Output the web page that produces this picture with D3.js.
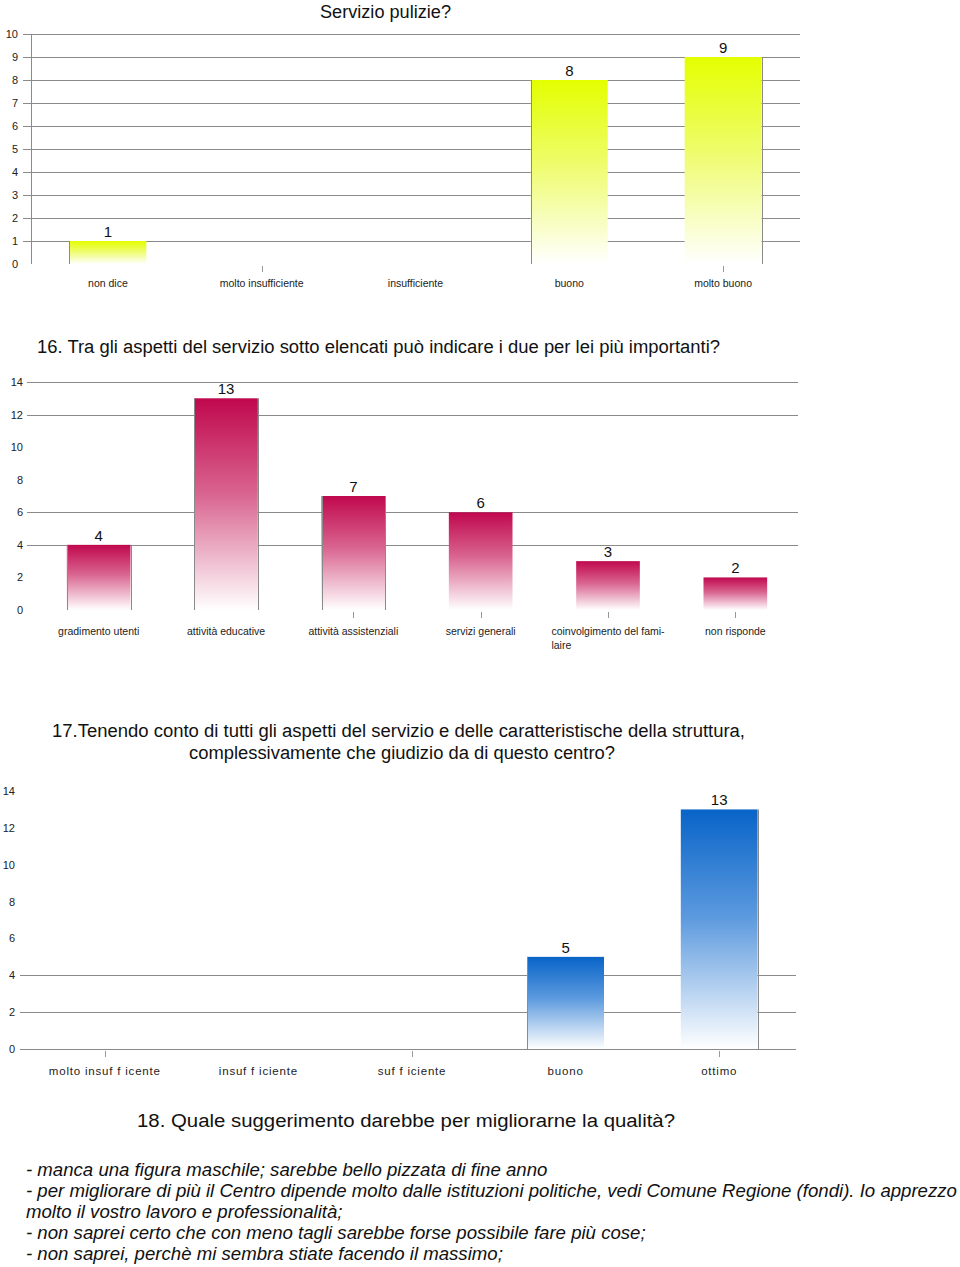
<!DOCTYPE html>
<html>
<head>
<meta charset="utf-8">
<script src="https://cdn.jsdelivr.net/npm/d3@7"></script>
<style>
  body { margin: 0; background: #fff; }
  svg { display: block; font-family: "Liberation Sans", Arial, sans-serif; }
</style>
</head>
<body>
<div class="chart"></div>
<script>
// --- data ---
const pulizieCats = ["non dice", "molto insufficiente", "insufficiente", "buono", "molto buono"];
const pulizieVals = [1, 0, 0, 8, 9];
const pulizieTicks = [0, 1, 2, 3, 4, 5, 6, 7, 8, 9, 10];

const importantiCats = ["gradimento utenti", "attività educative", "attività assistenziali",
  "servizi generali", "coinvolgimento del fami-\nlaire", "non risponde"];
const importantiVals = [4, 13, 7, 6, 3, 2];
const importantiTicks = [0, 2, 4, 6, 8, 10, 12, 14];

const giudizioCats = ["molto insuf f icente", "insuf f iciente", "suf f iciente", "buono", "ottimo"];
const giudizioVals = [0, 0, 0, 5, 13];
const giudizioTicks = [0, 2, 4, 6, 8, 10, 12, 14];

const suggerimenti = [
  "- manca una figura maschile; sarebbe bello pizzata di fine anno",
  "- per migliorare di più il Centro dipende molto dalle istituzioni politiche, vedi Comune Regione (fondi). Io apprezzo",
  "molto il vostro lavoro e professionalità;",
  "- non saprei certo che con meno tagli sarebbe forse possibile fare più cose;",
  "- non saprei, perchè mi sembra stiate facendo il massimo;"
];

const W = 960, H = 1267;

const svg = d3.select(".chart")
  .append("svg")
  .attr("width", W)
  .attr("height", H);

svg.append("rect").attr("width", W).attr("height", H).attr("fill", "#fff");
const defs = svg.append("defs");

function drawChart(cfg) {
  const g = svg.append("g");

  const x = d3.scaleBand()
    .domain(cfg.cats)
    .range(cfg.xRange)
    .paddingInner(0.5)
    .paddingOuter(0.25);

  const y = d3.scaleLinear()
    .domain([0, d3.max(cfg.ticks)])
    .range(cfg.yRange);

  // gradient for bars
  const gid = "grad-" + cfg.id;
  const grad = defs.append("linearGradient")
    .attr("id", gid)
    .attr("x1", 0).attr("y1", 0).attr("x2", 0).attr("y2", 1);
  grad.append("stop").attr("offset", "0%").attr("stop-color", cfg.color);
  grad.append("stop").attr("offset", "45%").attr("stop-color", cfg.mid);
  grad.append("stop").attr("offset", "100%").attr("stop-color", "#ffffff");

  // gridlines
  g.selectAll(".grid")
    .data(cfg.grid)
    .enter()
    .append("line")
    .attr("x1", cfg.gridX[0])
    .attr("x2", cfg.gridX[1])
    .attr("y1", (d) => Math.round(y(d)) + 0.5)
    .attr("y2", (d) => Math.round(y(d)) + 0.5)
    .attr("stroke", "#8a8a8a")
    .attr("stroke-width", 1);

  if (cfg.axisLine) {
    g.append("line")
      .attr("x1", cfg.axisLine + 0.5).attr("x2", cfg.axisLine + 0.5)
      .attr("y1", y(d3.max(cfg.ticks))).attr("y2", y(0))
      .attr("stroke", "#8a8a8a");
  }

  // y axis labels
  const yAxis = d3.axisLeft(y).tickValues(cfg.ticks).tickSize(0).tickPadding(0);
  const ya = g.append("g")
    .attr("transform", "translate(" + cfg.yLabelX + ",0)")
    .call(yAxis);
  ya.select(".domain").remove();
  ya.selectAll("text")
    .attr("font-family", "Liberation Sans, Arial, sans-serif")
    .attr("font-size", 11)
    .attr("fill", "#222");

  const data = cfg.cats.map((c, i) => ({ cat: c, val: cfg.vals[i], i: i }));
  const bars = data.filter((d) => d.val > 0);

  g.selectAll(".bar")
    .data(bars)
    .enter()
    .append("rect")
    .attr("x", (d) => x(d.cat))
    .attr("y", (d) => y(d.val))
    .attr("width", x.bandwidth())
    .attr("height", (d) => y(0) - y(d.val))
    .attr("fill", "url(#" + gid + ")");

  // thin grey edges seen on some bars
  cfg.edges.forEach((e) => {
    const d = data[e[0]];
    const ex = e[1] === "l" ? x(d.cat) : x(d.cat) + x.bandwidth();
    g.append("line")
      .attr("x1", Math.round(ex) + 0.5).attr("x2", Math.round(ex) + 0.5)
      .attr("y1", y(d.val)).attr("y2", y(0))
      .attr("stroke", "#8a8a8a");
  });

  // value labels
  g.selectAll(".val")
    .data(bars)
    .enter()
    .append("text")
    .attr("x", (d) => x(d.cat) + x.bandwidth() / 2)
    .attr("y", (d) => y(d.val) - 4)
    .attr("text-anchor", "middle")
    .attr("font-size", 15)
    .attr("fill", "#111")
    .text((d) => d.val);

  // category ticks
  cfg.tickIdx.forEach((i) => {
    const cx = Math.round(x(cfg.cats[i]) + x.bandwidth() / 2) + 0.5;
    g.append("line")
      .attr("x1", cx).attr("x2", cx)
      .attr("y1", y(0) + 2).attr("y2", y(0) + 8)
      .attr("stroke", "#999");
  });

  // category labels
  data.forEach((d) => {
    const cx = x(d.cat) + x.bandwidth() / 2;
    const lines = d.cat.split("\n");
    const t = g.append("text")
      .attr("x", cx)
      .attr("y", cfg.labelY)
      .attr("text-anchor", "middle")
      .attr("font-size", cfg.labelSize)
      .attr("letter-spacing", cfg.labelSpacing)
      .attr("fill", "#222")
      .text(lines[0]);
    if (lines.length > 1) {
      const w = t.node().getComputedTextLength();
      g.append("text")
        .attr("x", cx - w / 2)
        .attr("y", cfg.labelY + 14)
        .attr("font-size", cfg.labelSize)
        .attr("letter-spacing", cfg.labelSpacing)
        .attr("fill", "#222")
        .text(lines[1]);
    }
  });
}

// titles: [text, left x, width]
function title(lines, y0) {
  lines.forEach((l, i) => {
    svg.append("text")
      .attr("x", l[1])
      .attr("y", y0 + i * 22)
      .attr("font-size", 18)
      .attr("textLength", l[2])
      .attr("lengthAdjust", "spacingAndGlyphs")
      .attr("fill", "#111")
      .text(l[0]);
  });
}

// --- chart 1 ---
title([["Servizio pulizie?", 320, 131]], 18);
drawChart({
  id: "pulizie",
  cats: pulizieCats, vals: pulizieVals, ticks: pulizieTicks,
  grid: [1, 2, 3, 4, 5, 6, 7, 8, 9, 10],
  xRange: [31, 800], yRange: [264, 34],
  gridX: [23, 800], axisLine: 31, yLabelX: 18,
  color: "#e4ff00", mid: "#eefc6a",
  edges: [[0, "l"], [3, "l"], [4, "r"]],
  tickIdx: [1, 4],
  labelY: 287, labelSize: 10.5, labelSpacing: 0
});

// --- chart 2 ---
title([["16. Tra gli aspetti del servizio sotto elencati può indicare i due per lei più importanti?", 37, 683]], 353);
drawChart({
  id: "importanti",
  cats: importantiCats, vals: importantiVals, ticks: importantiTicks,
  grid: [4, 6, 12, 14],
  xRange: [35, 799], yRange: [610, 382],
  gridX: [27, 798], axisLine: null, yLabelX: 23,
  color: "#c0084e", mid: "#d9648f",
  edges: [[0, "l"], [0, "r"], [1, "l"], [1, "r"], [2, "l"], [2, "r"]],
  tickIdx: [2, 3, 4, 5],
  labelY: 635, labelSize: 10.5, labelSpacing: 0
});

// --- chart 3 ---
title([["17.Tenendo conto di tutti gli aspetti del servizio e delle caratteristische della struttura,", 52, 693],
  ["complessivamente che giudizio da di questo centro?", 189, 426]], 737);
drawChart({
  id: "giudizio",
  cats: giudizioCats, vals: giudizioVals, ticks: giudizioTicks,
  grid: [0, 2, 4],
  xRange: [28, 796], yRange: [1049, 791],
  gridX: [20, 796], axisLine: null, yLabelX: 15,
  color: "#0864c8", mid: "#5c9ade",
  edges: [[3, "l"], [4, "r"]],
  tickIdx: [0, 2, 4],
  labelY: 1075, labelSize: 11.5, labelSpacing: 0.8
});

// --- 18 ---
title([["18. Quale suggerimento darebbe per migliorarne la qualità?", 137, 538]], 1127);

const sg = svg.append("g");
const sTexts = sg.selectAll(".sug")
  .data(suggerimenti)
  .enter()
  .append("text")
  .attr("x", 0)
  .attr("y", (d, i) => 1176 + i * 21)
  .attr("font-size", 18)
  .attr("font-style", "italic")
  .attr("fill", "#111")
  .text((d) => d);
// condensed look: scale so the long line spans the page like in the original
const longW = sTexts.nodes()[1].getComputedTextLength();
const sx = 932 / longW;
sg.attr("transform", "translate(26,0) scale(" + sx + ",1)");
</script>
</body>
</html>
